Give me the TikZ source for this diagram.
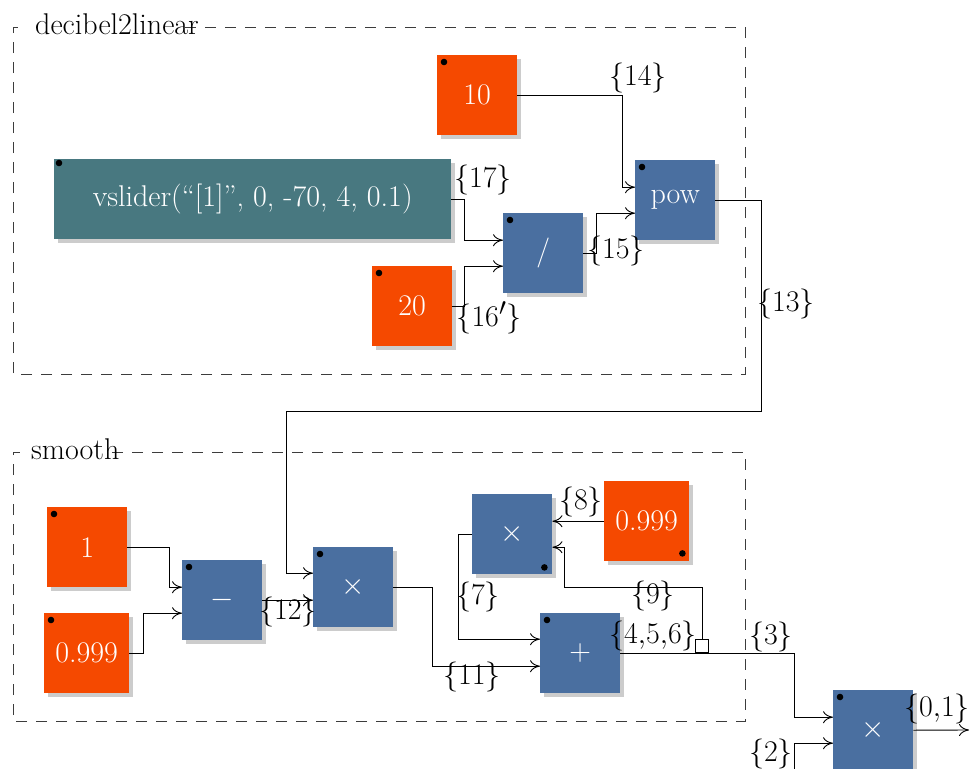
\documentclass[tikz,border=0pt]{standalone}
\usepackage{graphicx}
\usetikzlibrary{arrows.meta,shadows}
\definecolor{cOrange}{RGB}{245,73,0}
\definecolor{cBlue}{RGB}{74,111,160}
\definecolor{cTeal}{RGB}{72,120,128}
\definecolor{cShadow}{RGB}{204,204,204}
\definecolor{cFrame}{RGB}{60,60,60}
% math is set at the largest fixed size (24.88pt) and enlarged to match the 30pt text
\newcommand\bigmath[1]{\scalebox{1.2057}{$#1$}}
\begin{document}
\begin{tikzpicture}[x=1pt,y=-1pt,
  every node/.style={font=\fontsize{30}{36}\selectfont},
  blk/.style={anchor=north west, minimum width=80, minimum height=80,
    inner sep=0pt, text=white,
    drop shadow={shadow xshift=4pt, shadow yshift=-4pt, fill=cShadow, opacity=1}},
  cst/.style={blk, fill=cOrange},
  op/.style={blk, fill=cBlue},
  ui/.style={blk, fill=cTeal},
  conn/.style={draw=black, line width=0.9pt},
  arr/.style={conn, -{To[length=10pt,width=12pt]}},
  grpframe/.style={draw=cFrame, line width=1pt, dash pattern=on 11pt off 9pt},
  grplabel/.style={anchor=base west, inner sep=0pt},
  sig/.style={inner sep=1pt},
  delaybox/.style={draw=black, fill=white, line width=0.9pt, minimum size=13, inner sep=0pt, anchor=south}
]
\useasboundingbox (0,0) rectangle (970,769);

% ---------- group: decibel2linear ----------
\draw[grpframe] (185,27) -- (745,27) -- (745,374) -- (13,374) -- (13,27) -- (23,27);
\node[grplabel] (gdb) at (35,34) {decibel2linear};

\node[cst, minimum width=80] (ten) at (437,55) {10};
\node[ui, minimum width=397] (slider) at (54,159) {vslider(“[1]”, 0, -70, 4, 0.1)};
\node[cst] (twenty) at (372,266) {20};
\node[op] (div) at (503,213) {/};
\node[op] (pow) at (635,160) {pow};

\foreach \n in {ten,twenty,div,pow}
  \fill ([shift={(7,7)}]\n.north west) circle (3.3);
\fill ([shift={(5,4)}]slider.north west) circle (3.3);

\draw[arr] (ten.east) -- ++(105,0) |- ([yshift=13pt]pow.west);
\draw[arr] (slider.east) -- ++(13,0) |- ([yshift=13pt]div.west);
\draw[arr] (twenty.east) -- ++(12,0) |- ([yshift=-13pt]div.west);
\draw[arr] (div.east) -- ++(13,0) |- ([yshift=-13pt]pow.west);

\node[sig] (l14) at (638,78) {\bigmath{\{14\}}};
\node[sig] (l17) at (483,180) {\bigmath{\{17\}}};
\node[sig] (l16) at (489,318) {\bigmath{\{16'\}}};
\node[sig] (l15) at (616,251) {\bigmath{\{15\}}};
\node[sig] (l13) at (786,304) {\bigmath{\{13\}}};

% ---------- group: smooth ----------
\draw[grpframe] (112,452) -- (745,452) -- (745,721) -- (13,721) -- (13,452) -- (20,452);
\node[grplabel] (gsm) at (31,459) {smooth};

\node[cst] (one) at (47,507) {1};
\node[cst, minimum width=85] (ka) at (44,613) {0.999};
\node[op] (minus) at (182,560) {\bigmath{-}};
\node[op] (mula) at (313,547) {\bigmath{\times}};
\node[op] (mulfb) at (472,494) {\bigmath{\times}};
\node[cst, minimum width=85] (kb) at (604,481) {0.999};
\node[op] (plus) at (540,613) {\bigmath{+}};
\node[op] (mulout) at (833,690) {\bigmath{\times}};

\foreach \n in {one,ka,minus,mula,plus,mulout}
  \fill ([shift={(7,7)}]\n.north west) circle (3.3);
\fill ([shift={(-8,-7)}]mulfb.south east) circle (3.3);
\fill ([shift={(-7,-8)}]kb.south east) circle (3.3);

% gain coming down from pow
\coordinate (route) at (286,411);
\draw[arr] (pow.east) -- ++(46,0) |- (route) |- ([yshift=14pt]mula.west);

\draw[arr] (one.east) -- ++(42,0) |- ([yshift=13pt]minus.west);
\draw[arr] (ka.east) -- ++(14,0) |- ([yshift=-13pt]minus.west);
\draw[arr] (minus.east) -- ([yshift=-13pt]mula.west);
\draw[arr] (mula.east) -- ++(39,0) |- ([yshift=-13pt]plus.west);
\draw[arr] (mulfb.west) -- ++(-14,0) |- ([yshift=14pt]plus.west);
\draw[arr] (kb.west) -- ([yshift=13pt]mulfb.east);

% output of the sum, with the one-sample delay feeding back
\draw[arr] (plus.east) -- ++(174,0) |- ([yshift=13pt]mulout.west);
\node[delaybox] (dly) at ([xshift=82pt]plus.east) {};
\draw[arr] (dly.north) -- ++(0,-52) -- ++(-138,0) |- ([yshift=-13pt]mulfb.east);

\coordinate (inb) at (794,775);
\coordinate (outp) at (969,730);
\draw[arr] (inb) |- ([yshift=-13pt]mulout.west);
\draw[arr] (mulout.east) -- (outp);

\node[sig] (l12) at (288,612) {\bigmath{\{12\}}};
\node[sig] (l11) at (472,677) {\bigmath{\{11\}}};
\node[sig] (l7) at (478,597) {\bigmath{\{7\}}};
\node[sig] (l8) at (581,502) {\bigmath{\{8\}}};
\node[sig] (l9) at (653,596) {\bigmath{\{9\}}};
\node[sig] (l456) at (653,636) {\bigmath{\{4{,}5{,}6\}}};
\node[sig] (l3) at (771,637) {\bigmath{\{3\}}};
\node[sig] (l2) at (771,754) {\bigmath{\{2\}}};
\node[sig] (l01) at (937,709) {\bigmath{\{0{,}1\}}};
\end{tikzpicture}
\end{document}
